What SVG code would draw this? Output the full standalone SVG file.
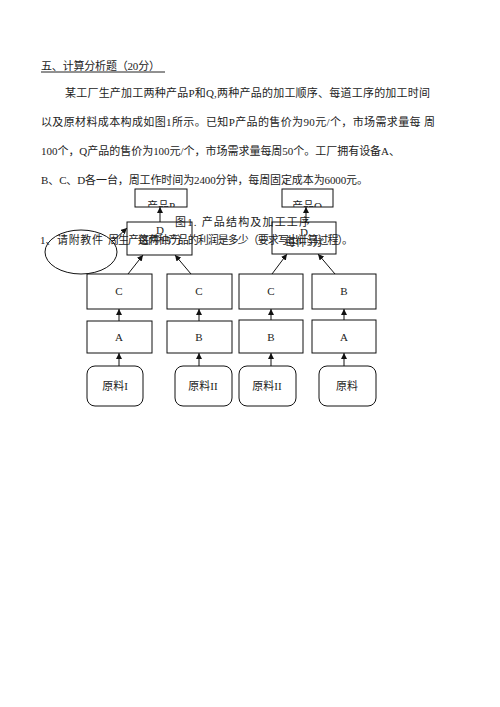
<svg xmlns="http://www.w3.org/2000/svg" width="500" height="707" viewBox="0 0 500 707">
<style>
text{font-family:"Liberation Serif","Noto Sans CJK SC",serif;font-size:11px;fill:#222}
.m{text-anchor:middle}
.box{fill:none;stroke:#111;stroke-width:1}
.ln{fill:none;stroke:#111;stroke-width:1}
</style>
<defs>
<marker id="ah" viewBox="0 0 6 6" refX="6" refY="3" markerWidth="6" markerHeight="6" markerUnits="userSpaceOnUse" orient="auto">
<path d="M0,0 L6,3 L0,6 Z" fill="#111"/>
</marker>
<clipPath id="cp"><rect x="135" y="189" width="52" height="18"/></clipPath>
<clipPath id="cq"><rect x="282" y="189" width="51" height="18"/></clipPath>
</defs>
<rect width="500" height="707" fill="#fff"/>

<g id="heading">
<text x="41" y="70" textLength="119">五、计算分析题（20分）</text>
<line x1="41" y1="72" x2="165" y2="72" stroke="#222" stroke-width="1"/>
</g>
<g id="body">
<text x="65" y="97" textLength="365">某工厂生产加工两种产品P和Q,两种产品的加工顺序、每道工序的加工时间</text>
<text x="41" y="126" textLength="394">以及原材料成本构成如图1所示。已知P产品的售价为90元/个，市场需求量每 周</text>
<text x="41" y="155" textLength="359">100个，Q产品的售价为100元/个，市场需求量每周50个。工厂拥有设备A、</text>
<text x="41" y="184" textLength="327">B、C、D各一台，周工作时间为2400分钟，每周固定成本为6000元。</text>
</g>

<g id="productP">
<rect class="box" x="135" y="189" width="52" height="18"/>
<text class="m" x="161" y="210" clip-path="url(#cp)">产品P</text>
</g>
<g id="productQ">
<rect class="box" x="282" y="189" width="51" height="18"/>
<text class="m" x="307" y="210" clip-path="url(#cq)">产品Q</text>
</g>

<g id="caption">
<text x="175" y="226" textLength="135">图1. 产品结构及加工工序</text>
</g>

<g id="DP">
<rect class="box" x="127" y="222" width="65" height="33"/>
<text class="m" x="160" y="234">D</text>
<text class="m" x="160" y="244">每件15分</text>
</g>
<g id="DQ">
<rect class="box" x="272" y="222" width="64" height="32"/>
<text class="m" x="304" y="236">D</text>
<text class="m" x="304" y="246">每件5分</text>
</g>

<g id="ellipse">
<ellipse class="box" cx="81" cy="252" rx="36" ry="22"/>
</g>

<g id="question">
<text x="40" y="244">1、</text>
<text x="57" y="244" textLength="46">请附教件</text>
<text x="108" y="244" textLength="245">周生产这两种产品的利润是多少（要求写出计算过程）。</text>
</g>

<g id="C1"><rect class="box" x="87" y="274" width="65" height="35"/><text class="m" x="119" y="295">C</text></g>
<g id="C2"><rect class="box" x="167" y="274" width="65" height="35"/><text class="m" x="199" y="295">C</text></g>
<g id="C3"><rect class="box" x="239" y="274" width="64" height="35"/><text class="m" x="271" y="295">C</text></g>
<g id="B4"><rect class="box" x="312" y="274" width="64" height="35"/><text class="m" x="344" y="295">B</text></g>

<g id="A1"><rect class="box" x="87" y="321" width="65" height="32"/><text class="m" x="119" y="341">A</text></g>
<g id="B2"><rect class="box" x="167" y="321" width="65" height="32"/><text class="m" x="199" y="341">B</text></g>
<g id="B3"><rect class="box" x="239" y="320" width="64" height="33"/><text class="m" x="271" y="341">B</text></g>
<g id="A4"><rect class="box" x="312" y="320" width="64" height="33"/><text class="m" x="344" y="341">A</text></g>

<g id="R1"><rect class="box" x="87" y="366" width="56" height="40" rx="8"/><text class="m" x="115" y="390">原料I</text></g>
<g id="R2"><rect class="box" x="175" y="366" width="57" height="40" rx="8"/><text class="m" x="203" y="390">原料II</text></g>
<g id="R3"><rect class="box" x="239" y="366" width="57" height="40" rx="8"/><text class="m" x="267" y="390">原料II</text></g>
<g id="R4"><rect class="box" x="319" y="366" width="57" height="40" rx="8"/><text class="m" x="347" y="390">原料</text></g>

<g id="connectors">
<line class="ln" x1="160" y1="222" x2="160" y2="207" marker-end="url(#ah)"/>
<line class="ln" x1="306" y1="222" x2="306" y2="207" marker-end="url(#ah)"/>
<line class="ln" x1="113" y1="241" x2="127" y2="228" marker-end="url(#ah)"/>
<line class="ln" x1="128" y1="274" x2="143" y2="255" marker-end="url(#ah)"/>
<line class="ln" x1="191" y1="274" x2="175" y2="255" marker-end="url(#ah)"/>
<line class="ln" x1="272" y1="274" x2="287" y2="254" marker-end="url(#ah)"/>
<line class="ln" x1="335" y1="274" x2="318" y2="254" marker-end="url(#ah)"/>
<line class="ln" x1="119" y1="321" x2="119" y2="309" marker-end="url(#ah)"/>
<line class="ln" x1="199" y1="321" x2="199" y2="309" marker-end="url(#ah)"/>
<line class="ln" x1="271" y1="320" x2="271" y2="309" marker-end="url(#ah)"/>
<line class="ln" x1="344" y1="320" x2="344" y2="309" marker-end="url(#ah)"/>
<line class="ln" x1="119" y1="366" x2="119" y2="353" marker-end="url(#ah)"/>
<line class="ln" x1="199" y1="366" x2="199" y2="353" marker-end="url(#ah)"/>
<line class="ln" x1="271" y1="366" x2="271" y2="353" marker-end="url(#ah)"/>
<line class="ln" x1="344" y1="366" x2="344" y2="353" marker-end="url(#ah)"/>
</g>
</svg>
